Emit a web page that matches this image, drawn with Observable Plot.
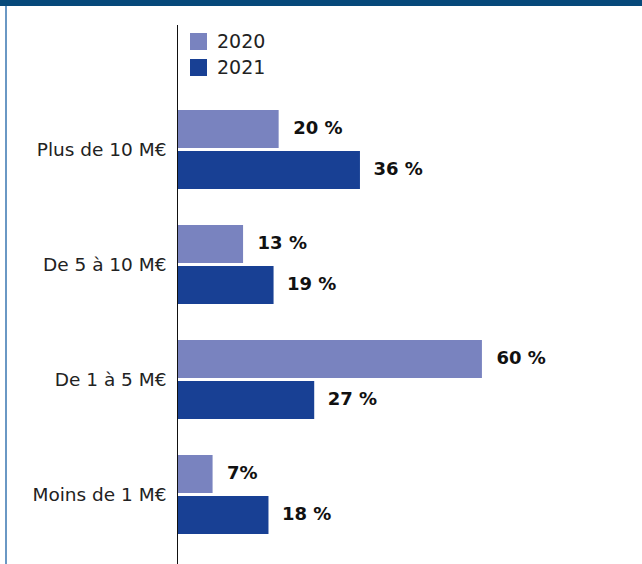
<!DOCTYPE html>
<html>
<head>
<meta charset="utf-8">
<script src="https://cdn.jsdelivr.net/npm/d3@7"></script>
<script src="https://cdn.jsdelivr.net/npm/@observablehq/plot@0.6"></script>
<style>
  html, body { margin: 0; padding: 0; background: #fff; }
  #wrap { position: relative; width: 642px; height: 564px; overflow: hidden; font-family: "DejaVu Sans", sans-serif; }
  #topband { position: absolute; left: 0; top: 0; width: 642px; height: 6px; background: #06497a; }
  #leftline { position: absolute; left: 5px; top: 6px; width: 2px; height: 558px; background: #6a98c4; }
  #chart { position: absolute; left: 0; top: 0; }
  #legend { position: absolute; left: 190px; top: 28px; font-size: 19px; color: #222; line-height: 26px; }
  .item { display: flex; align-items: center; }
  .sw { width: 17px; height: 17px; margin-right: 10px; display: inline-block; }
</style>
</head>
<body>
<div id="wrap">
  <div id="topband"></div>
  <div id="leftline"></div>
  <div id="chart"></div>
  <div id="legend"></div>
</div>
<script>
const categories = ["Plus de 10 M€", "De 5 à 10 M€", "De 1 à 5 M€", "Moins de 1 M€"];
const years = ["2020", "2021"];
const values2020 = [20, 13, 60, 7];
const values2021 = [36, 19, 27, 18];
const labels2020 = ["20 %", "13 %", "60 %", "7%"];
const labels2021 = ["36 %", "19 %", "27 %", "18 %"];
const colors = ["#7983bf", "#184094"];

const d2020 = categories.map((c, i) => ({cat: c, year: years[0], value: values2020[i], label: labels2020[i]}));
const d2021 = categories.map((c, i) => ({cat: c, year: years[1], value: values2021[i], label: labels2021[i]}));

const chart = Plot.plot({
  width: 642,
  height: 564,
  marginLeft: 177,
  marginRight: 0,
  marginTop: 25,
  marginBottom: 0,
  style: {fontFamily: "'DejaVu Sans', sans-serif", background: "transparent", overflow: "visible"},
  x: {domain: [0, 91.5], axis: null},
  y: {domain: categories, paddingInner: 0.315, paddingOuter: 0.49, align: 0.734, label: null, tickSize: 0, tickPadding: 11},
  marks: [
    Plot.barX(d2020, {x: "value", y: "cat", fill: colors[0], insetBottom: 41}),
    Plot.barX(d2021, {x: "value", y: "cat", fill: colors[1], insetTop: 41}),
    Plot.text(d2020, {x: "value", y: "cat", text: "label", dy: -22, dx: 14, textAnchor: "start", fontWeight: "bold", fontSize: 18, fill: "#111"}),
    Plot.text(d2021, {x: "value", y: "cat", text: "label", dy: 19, dx: 13, textAnchor: "start", fontWeight: "bold", fontSize: 18, fill: "#111"}),
    Plot.axisY({tickSize: 0, tickPadding: 11, fontSize: 18.5, fill: "#222", label: null}),
    Plot.ruleX([0], {stroke: "#111", strokeWidth: 1})
  ]
});
document.getElementById("chart").appendChild(chart);

const legend = document.getElementById("legend");
years.forEach((y, i) => {
  const item = document.createElement("div");
  item.className = "item";
  const sw = document.createElement("span");
  sw.className = "sw";
  sw.style.background = colors[i];
  item.appendChild(sw);
  item.appendChild(document.createTextNode(y));
  legend.appendChild(item);
});
</script>
</body>
</html>
